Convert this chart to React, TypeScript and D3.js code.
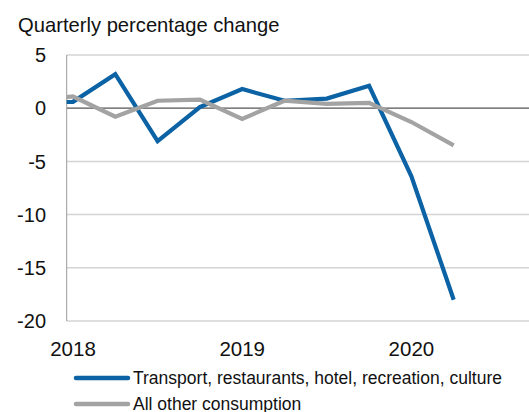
import React from "react";
import * as d3 from "d3";

const quarters = ["2017Q4","2018Q1","2018Q2","2018Q3","2018Q4","2019Q1","2019Q2","2019Q3","2019Q4","2020Q1","2020Q2"];
const quarterIndex = [-1,0,1,2,3,4,5,6,7,8,9];
const transport = [0.5,0.6,3.2,-3.1,0.1,1.8,0.7,0.9,2.1,-6.4,-18.0];
const otherConsumption = [0.8,1.1,-0.8,0.7,0.8,-1.0,0.7,0.4,0.5,-1.3,-3.5];
const yTicks = [5,0,-5,-10,-15,-20];
const yearLabels = ["2018","2019","2020"];
const yearIndex = [0,4,8];
const seriesNames = ["Transport, restaurants, hotel, recreation, culture","All other consumption"];
const colors = ["#0b62a4","#a3a3a3"];

const W = 529, H = 412;
const left = 66.7, right = 529, top = 55, bottom = 321;
const FONT = "'Liberation Sans', Arial, Helvetica, sans-serif";

export default function App() {
  const x = d3.scaleLinear().domain([0, 9]).range([73, 73 + 9 * 42.3]);
  const y = d3.scaleLinear().domain([-20, 5]).range([bottom, top]);
  const line = d3.line<number>().x((_, i) => x(quarterIndex[i])).y((d) => y(d));
  const series = [transport, otherConsumption];
  return (
    <svg width={W} height={H} style={{ position: "absolute", left: 0, top: 0, background: "#fff" }} fontFamily={FONT}>
      <defs>
        <clipPath id="plot"><rect x={left} y={0} width={right - left} height={H} /></clipPath>
      </defs>
      <text x={18} y={32} fontSize={20.2} fill="#111">Quarterly percentage change</text>
      {yTicks.map((t) => (
        <g key={t}>
          <line x1={left} x2={right} y1={y(t)} y2={y(t)} stroke={t === 0 ? "#555" : "#d4d4d4"} strokeWidth={t === 0 ? 1.2 : 1.5} />
          <text x={46} y={y(t)} dy="0.36em" textAnchor="end" fontSize={20} fill="#111">{t}</text>
        </g>
      ))}
      <line x1={left} x2={left} y1={top} y2={bottom} stroke="#999" strokeWidth={1} />
      {yearLabels.map((l, i) => (
        <text key={l} x={x(yearIndex[i])} y={356} textAnchor="middle" fontSize={20.5} fill="#111">{l}</text>
      ))}
      <g clipPath="url(#plot)">
        {series.map((s, i) => (
          <path key={i} d={line(s) || ""} fill="none" stroke={colors[i]} strokeWidth={4.2} strokeLinejoin="miter" />
        ))}
      </g>
      {seriesNames.map((n, i) => (
        <g key={n}>
          <line x1={76} x2={128} y1={378 + i * 26} y2={378 + i * 26} stroke={colors[i]} strokeWidth={4.5} strokeLinecap="round" />
          <text x={133} y={378 + i * 26} dy="0.36em" fontSize={17.5} fill="#111">{n}</text>
        </g>
      ))}
    </svg>
  );
}
